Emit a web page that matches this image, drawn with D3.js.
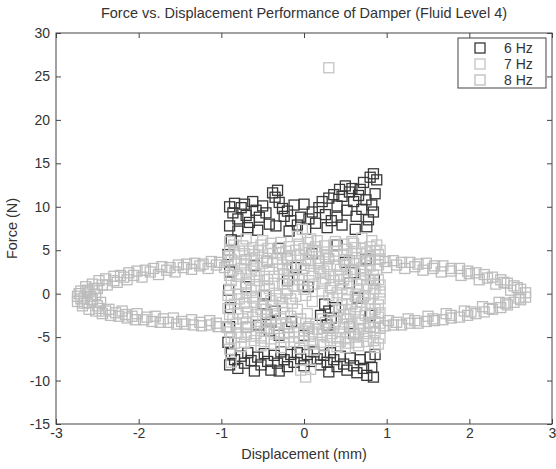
<!DOCTYPE html>
<html>
<head>
<meta charset="utf-8">
<script src="https://cdn.jsdelivr.net/npm/d3@7"></script>
<style>
  body { margin: 0; background: #fff; }
  text { font-family: "Liberation Sans", Arial, sans-serif; fill: #333; }
</style>
</head>
<body>
<svg></svg>
<script>
// axis ticks
const xTicks = [-3, -2, -1, 0, 1, 2, 3];
const yTicks = [-15, -10, -5, 0, 5, 10, 15, 20, 25, 30];
const seriesNames = ['6 Hz', '7 Hz', '8 Hz'];

// 6 Hz points [displacement, force]
const hz6 = [
  [-0.90,10.0],[-0.86,9.3],[-0.84,10.4],[-0.80,8.6],[-0.76,9.9],[-0.72,10.3],[-0.70,9.0],[-0.66,8.2],[-0.62,10.6],[-0.58,9.6],
  [-0.54,8.8],[-0.50,10.1],[-0.46,9.3],[-0.42,8.0],[-0.90,7.8],[-0.80,7.2],[-0.68,7.6],[-0.56,7.3],
  [-0.38,11.6],[-0.35,11.1],[-0.32,11.9],[-0.30,10.5],[-0.26,9.8],[-0.24,8.9],[-0.20,9.5],[-0.16,8.4],[-0.12,10.2],[-0.08,7.9],
  [-0.04,8.8],[0.00,10.3],[0.02,7.4],[0.06,8.6],[0.10,9.4],[-0.18,7.2],[-0.34,7.8],
  [0.14,8.1],[0.18,9.9],[0.22,10.6],[0.26,9.1],[0.30,11.0],[0.33,8.4],[0.36,11.4],[0.40,10.1],[0.43,12.0],[0.46,11.2],
  [0.50,12.4],[0.52,9.6],[0.55,11.7],[0.58,12.1],[0.60,10.6],[0.63,8.9],[0.66,11.3],[0.70,9.7],[0.72,12.8],[0.75,10.8],
  [0.78,8.5],[0.80,13.4],[0.84,13.8],[0.86,11.5],[0.88,13.1],[0.84,9.4],[0.28,7.6],[0.46,7.9],[0.62,7.4],[0.76,7.7],
  [0.40,8.8],[0.68,12.0],[0.82,10.2],
  [-0.90,-8.2],[-0.88,-6.9],[-0.84,-7.6],[-0.80,-8.6],[-0.76,-7.2],[-0.72,-8.0],[-0.68,-6.8],[-0.64,-7.7],[-0.60,-8.9],[-0.56,-7.3],
  [-0.52,-8.2],[-0.48,-6.9],[-0.44,-7.8],[-0.40,-8.8],[-0.36,-7.1],[-0.32,-8.0],[-0.28,-6.7],[-0.24,-7.6],[-0.20,-8.4],[-0.16,-7.0],
  [-0.12,-7.9],[-0.08,-6.8],[-0.04,-7.5],[0.00,-8.3],[0.04,-7.0],[0.08,-7.8],[0.12,-6.7],[0.16,-7.5],[0.20,-8.2],[0.24,-7.1],
  [0.28,-7.9],[0.32,-6.8],[0.36,-7.6],[0.40,-8.4],[0.44,-7.2],[0.48,-8.1],[0.52,-8.8],[0.56,-7.4],[0.60,-8.3],[0.64,-9.1],
  [0.68,-7.6],[0.72,-8.6],[0.76,-9.4],[0.80,-7.3],[0.82,-8.5],[0.84,-9.6],[0.86,-7.0],[-0.30,-8.9],[0.30,-9.0],
  [-0.92,4.5],[-0.90,2.5],[-0.91,0.4],[-0.89,-1.6],[-0.90,-3.8],[-0.92,-5.6],[-0.88,6.2],
  [-0.50,-1.2],[-0.45,-2.4],[-0.40,-3.3],[-0.42,-4.3],[-0.35,-2.0],[-0.55,-3.6],[-0.30,-4.8],[-0.48,-0.2],
  [0.25,-1.2],[0.30,-2.0],[0.33,-2.8],[0.28,-3.6],[0.38,-1.6],[0.20,-2.5],
  [0.55,1.2],[0.60,2.4],[0.50,3.6],[0.65,-0.5],[-0.20,1.5],[-0.10,3.0],[0.05,0.8],[0.10,4.6],[-0.30,5.2],[0.40,5.6],
  [-0.60,3.2],[-0.70,0.8],[0.80,-2.5],[0.85,1.6],[0.75,4.0],[-0.15,-3.2],[0.00,-4.8],[0.60,-4.6]
];

// 7 Hz points
const hz7 = [
  [-0.85,5.6],[-0.62,5.3],[-0.40,5.8],[-0.18,5.4],[0.05,5.9],[0.25,5.5],[0.48,5.7],[0.70,5.2],[0.88,5.6],
  [-0.92,4.3],[-0.72,4.6],[-0.50,4.2],[-0.28,4.7],[-0.05,4.4],[0.15,4.8],[0.36,4.3],[0.58,4.6],[0.80,4.4],
  [-0.84,3.4],[-0.60,3.1],[-0.38,3.6],[-0.15,3.2],[0.08,3.5],[0.28,3.1],[0.50,3.4],[0.70,3.0],[0.90,3.3],
  [-0.90,2.1],[-0.70,2.4],[-0.48,2.0],[-0.25,2.3],[-0.02,2.1],[0.20,2.4],[0.42,2.0],[0.62,2.3],[0.84,2.1],
  [-0.82,1.1],[-0.58,0.8],[-0.36,1.2],[-0.12,0.9],[0.12,1.1],[0.32,0.7],[0.54,1.2],[0.76,0.9],[0.92,1.0],
  [-0.92,-0.2],[-0.70,0.1],[-0.46,-0.3],[-0.22,0.0],[0.02,-0.2],[0.40,0.1],[0.62,-0.3],[0.84,0.0],
  [-0.84,-1.2],[-0.60,-1.0],[-0.38,-1.4],[-0.14,-1.1],[0.46,-1.3],[0.70,-1.0],[0.90,-1.3],
  [-0.90,-2.4],[-0.68,-2.1],[-0.46,-2.5],[-0.24,-2.2],[0.48,-2.4],[0.62,-2.1],[0.82,-2.3],
  [-0.82,-3.5],[-0.58,-3.2],[-0.34,-3.6],[-0.10,-3.3],[0.14,-3.5],[0.38,-3.2],[0.58,-3.6],[0.78,-3.3],[0.92,-3.4],
  [-0.90,-4.4],[-0.70,-4.7],[-0.48,-4.3],[-0.24,-4.6],[0.00,-4.3],[0.22,-4.7],[0.44,-4.4],[0.66,-4.6],[0.86,-4.5],
  [-0.84,-5.7],[-0.60,-5.4],[-0.36,-5.8],[-0.12,-5.5],[0.10,-5.8],[0.32,-5.4],[0.54,-5.7],[0.76,-5.5],[0.90,-5.8],
  [-0.78,4.9],[-0.55,5.0],[-0.33,4.0],[-0.10,5.0],[0.18,3.8],[0.40,4.9],[0.64,3.8],[0.86,4.9],
  [-0.76,2.9],[-0.54,1.5],[-0.30,2.8],[-0.06,1.6],[0.18,2.9],[0.36,1.5],[0.58,2.8],[0.80,1.6],
  [-0.78,-0.6],[-0.52,-1.8],[-0.30,-0.6],[-0.08,-1.8],[0.35,-0.6],[0.56,-1.8],[0.78,-0.6],
  [-0.74,-2.9],[-0.52,-3.9],[-0.28,-2.9],[-0.04,-2.9],[0.30,-4.0],[0.52,-2.9],[0.72,-4.0],
  [-0.76,-5.0],[-0.52,-5.1],[-0.30,-4.0],[-0.06,-5.0],[0.16,-4.1],[0.40,-5.1],[0.62,-5.0],[0.84,-3.9],
  [-0.90,5.1],[-0.66,4.9],[-0.44,5.2],[-0.22,4.9],[0.00,5.2],[0.10,5.0],[0.28,4.8],[0.52,5.1],[0.62,5.3],[0.76,4.8],[0.92,5.0],
  [-0.90,6.0],[-0.50,6.1],[-0.28,5.9],[0.16,6.1],[0.38,6.0],[0.58,6.0],[0.82,6.1],
  [-0.88,3.9],[-0.64,4.0],[-0.44,3.8],[-0.20,4.1],[0.02,3.9],[0.26,4.1],[0.48,3.9],[0.74,3.8],[0.92,4.0],
  [-0.86,2.7],[-0.64,2.6],[-0.42,2.8],[-0.20,2.7],[0.00,2.9],[0.24,2.6],[0.44,2.8],[0.68,2.6],[0.88,2.8],
  [-0.88,1.5],[-0.66,1.7],[-0.44,1.6],[-0.18,1.8],[0.06,1.5],[0.26,1.7],[0.48,1.6],[0.70,1.7],[0.90,1.6],
  [-0.90,0.5],[-0.64,0.4],[-0.42,0.6],[-0.20,0.4],[0.00,0.5],[0.22,0.3],[0.46,0.6],[0.66,0.4],[0.86,0.6],
  [-0.88,-0.7],[-0.62,-0.5],[-0.40,-0.8],[-0.16,-0.6],[0.52,-0.7],[0.72,-0.4],[0.92,-0.6],
  [-0.92,-1.7],[-0.70,-1.5],[-0.46,-1.8],[-0.26,-1.5],[0.42,-1.9],[0.64,-1.5],[0.86,-1.8],
  [-0.86,-2.9],[-0.62,-2.7],[-0.40,-3.0],[-0.16,-2.6],[0.40,-2.7],[0.66,-3.0],[0.90,-2.7],
  [-0.92,-3.9],[-0.68,-3.8],[-0.42,-4.0],[-0.18,-3.9],[0.06,-3.8],[0.24,-4.0],[0.48,-3.9],[0.66,-4.1],[0.92,-4.0],
  [-0.88,-5.1],[-0.64,-4.9],[-0.40,-5.2],[-0.18,-5.0],[0.06,-4.9],[0.28,-5.0],[0.50,-5.2],[0.72,-4.9],[0.92,-5.1],
  [-0.76,-6.1],[-0.52,-6.0],[-0.28,-6.2],[0.24,-6.0],[0.40,-6.1],[0.66,-6.0],[0.86,-6.2],
  [-0.74,5.5],[-0.52,5.6],[-0.30,5.3],[-0.06,5.7],[0.14,5.4],[0.36,5.6],[0.60,5.8],[0.80,5.4],
  [-0.84,4.7],[-0.60,4.5],[-0.38,4.6],[-0.16,4.4],[0.06,4.7],[0.26,4.5],[0.48,4.4],[0.70,4.6],[0.90,4.5],
  [-0.72,3.3],[-0.50,3.5],[-0.26,3.3],[-0.04,3.3],[0.18,3.4],[0.40,3.3],[0.60,3.5],[0.80,3.2],
  [-0.80,2.0],[-0.58,2.2],[-0.36,2.0],[-0.12,2.2],[0.10,2.0],[0.32,2.2],[0.52,2.0],[0.74,2.2],
  [-0.70,1.1],[-0.48,0.9],[-0.26,1.1],[-0.02,1.0],[0.22,1.2],[0.44,1.0],[0.64,1.1],[0.84,1.2],
  [-0.80,-0.1],[-0.58,-0.3],[-0.34,-0.2],[-0.10,-0.3],[0.30,-0.2],[0.52,0.0],[0.74,-0.2],[0.92,0.2],
  [-0.72,-1.1],[-0.50,-1.3],[-0.26,-1.0],[0.58,-1.2],[0.80,-1.1],
  [-0.80,-2.2],[-0.58,-2.4],[-0.36,-2.3],[0.56,-2.3],[0.74,-2.5],[0.92,-2.2],
  [-0.70,-3.4],[-0.46,-3.3],[-0.22,-3.5],[0.02,-3.4],[0.26,-3.3],[0.48,-3.5],[0.68,-3.4],[0.86,-3.2],
  [-0.80,-4.5],[-0.58,-4.6],[-0.36,-4.4],[-0.12,-4.5],[0.10,-4.4],[0.34,-4.6],[0.56,-4.4],[0.76,-4.6],
  [-0.72,-5.6],[-0.48,-5.5],[-0.24,-5.6],[0.00,-5.4],[0.20,-5.6],[0.44,-5.5],[0.64,-5.6],[0.84,-5.4],
  [0.10,-0.9],[0.22,-2.9],[0.04,-2.3],
  [-0.08,6.6],[-0.02,7.4],[0.08,6.3],[-0.70,6.3],[0.70,6.4],
  [-0.90,-6.4],[-0.05,-6.3],[0.02,-9.6],[-0.04,-8.8],[0.08,-8.7],[0.12,-6.5],[0.50,-6.2],[-0.88,-7.9],
  [0.30,26.0]
];

// 8 Hz points
const hz8 = [
  [-2.74,-0.3],[-2.70,0.3],[-2.64,0.8],[-2.56,1.1],[-2.48,1.5],[-2.40,1.7],[-2.30,2.0],[-2.22,2.1],[-2.12,2.4],[-2.02,2.6],
  [-1.92,2.7],[-1.82,2.9],[-1.72,3.1],[-1.62,3.0],[-1.52,3.3],[-1.42,3.4],[-1.32,3.5],[-1.22,3.4],[-1.12,3.7],[-1.02,3.6],
  [-0.92,3.8],[-0.70,3.9],[-0.45,3.7],[-0.20,4.0],[0.05,3.8],[0.30,4.0],[0.55,3.8],[0.80,3.9],[0.98,3.7],[1.08,3.8],
  [1.18,3.6],[1.28,3.6],[1.38,3.4],[1.48,3.5],[1.58,3.2],[1.68,3.2],[1.78,2.9],[1.88,2.9],[1.98,2.6],[2.08,2.4],
  [2.18,2.2],[2.28,1.9],[2.38,1.6],[2.46,1.2],[2.54,0.9],[2.62,0.5],[2.68,0.1],
  [-2.60,0.2],[-2.50,0.6],[-2.38,1.0],[-2.26,1.3],[-2.14,1.6],[-1.96,1.9],[-1.76,2.2],[-1.56,2.5],[-1.36,2.8],[-1.16,2.9],
  [-0.96,3.0],[1.00,3.0],[1.22,2.9],[1.44,2.7],[1.66,2.5],[1.90,2.1],[2.12,1.6],[2.32,1.1],[2.50,0.4],
  [-2.74,-0.9],[-2.68,-1.4],[-2.60,-1.8],[-2.52,-2.0],[-2.44,-2.3],[-2.34,-2.5],[-2.24,-2.6],[-2.14,-2.8],[-2.04,-3.0],[-1.94,-3.0],
  [-1.84,-3.2],[-1.74,-3.3],[-1.64,-3.3],[-1.54,-3.5],[-1.44,-3.5],[-1.34,-3.6],[-1.24,-3.7],[-1.14,-3.6],[-1.04,-3.8],[-0.94,-3.8],
  [-0.70,-3.9],[-0.45,-4.0],[-0.20,-3.9],[0.05,-4.0],[0.30,-3.9],[0.55,-3.8],[0.80,-3.8],[0.98,-3.7],[1.08,-3.6],[1.18,-3.6],
  [1.28,-3.4],[1.38,-3.4],[1.48,-3.2],[1.58,-3.1],[1.68,-3.0],[1.78,-2.8],[1.88,-2.7],[1.98,-2.5],[2.08,-2.3],[2.18,-2.1],
  [2.28,-1.8],[2.38,-1.6],[2.46,-1.3],[2.54,-1.0],[2.62,-0.7],[2.68,-0.4],
  [-2.62,-1.0],[-2.50,-1.4],[-2.36,-1.8],[-2.20,-2.0],[-2.02,-2.3],[-1.80,-2.6],[-1.58,-2.8],[-1.36,-3.0],[-1.14,-3.1],
  [1.02,-3.1],[1.26,-2.9],[1.50,-2.6],[1.72,-2.3],[1.94,-2.0],[2.16,-1.5],[2.36,-1.0],
  [-2.66,-0.5],[-2.58,-0.3],[-2.62,0.4],
  [-2.70,-0.6],[-2.72,0.0],[-2.66,-1.1],[-2.56,-0.7],[-2.52,-0.1],[-2.54,0.6],[-2.46,-1.0],[-2.44,1.0],
  [-2.48,-1.7],[-2.40,-2.0],[-2.30,1.5],[-2.28,-2.2],[-2.18,1.9],[-2.16,-2.4],[-2.06,2.1],[-2.08,-2.6],
  [-1.86,2.5],[-1.66,2.7],[-1.46,3.0],[-1.26,3.2],[-1.06,3.3],
  [-1.90,-2.7],[-1.70,-2.9],[-1.48,-3.2],[-1.26,-3.3],[-1.06,-3.4],
  [1.12,3.3],[1.34,3.1],[1.56,2.9],[1.78,2.6],[2.00,2.3],[2.22,1.8],[2.42,1.3],[2.58,0.7],
  [1.12,-3.3],[1.34,-3.1],[1.56,-2.9],[1.78,-2.5],[2.02,-2.1],[2.24,-1.7],[2.44,-1.1],[2.60,-0.5]
];

const seriesData = [hz6, hz7, hz8];
const seriesColors = ['#383838', '#c4c4c4', '#bcbcbc'];

const width = 556, height = 469;
const plotLeft = 56, plotRight = 552, plotTop = 33, plotBottom = 424;
const box = 10;

const svg = d3.select('svg')
  .attr('width', width)
  .attr('height', height);

const scaleX = d3.scaleLinear().domain([-3, 3]).range([plotLeft, plotRight]);
const scaleY = d3.scaleLinear().domain([-15, 30]).range([plotBottom, plotTop]);

// points, drawn in series order
seriesData.forEach((pts, i) => {
  svg.append('g')
    .attr('class', 'series')
    .selectAll('rect')
    .data(pts)
    .enter()
    .append('rect')
    .attr('x', d => scaleX(d[0]) - box / 2)
    .attr('y', d => scaleY(d[1]) - box / 2)
    .attr('width', box)
    .attr('height', box)
    .attr('fill', 'none')
    .attr('stroke', seriesColors[i])
    .attr('stroke-width', 1.3);
});

// frame
svg.append('rect')
  .attr('x', plotLeft)
  .attr('y', plotTop)
  .attr('width', plotRight - plotLeft)
  .attr('height', plotBottom - plotTop)
  .attr('fill', 'none')
  .attr('stroke', '#444')
  .attr('stroke-width', 1);

// axes, ticks point inward
const styleAxis = g => {
  g.select('.domain').remove();
  g.selectAll('line').attr('stroke', '#444');
  g.selectAll('text').attr('font-size', 14).attr('fill', '#333')
    .attr('font-family', '"Liberation Sans", Arial, sans-serif');
};

svg.append('g')
  .attr('transform', `translate(0, ${plotBottom})`)
  .call(d3.axisBottom(scaleX).tickValues(xTicks).tickFormat(d => String(d))
    .tickSizeInner(-5).tickSizeOuter(0).tickPadding(4))
  .call(styleAxis);

svg.append('g')
  .attr('transform', `translate(0, ${plotTop})`)
  .call(d3.axisTop(scaleX).tickValues(xTicks).tickSizeInner(-5).tickSizeOuter(0).tickFormat(''))
  .call(styleAxis);

svg.append('g')
  .attr('transform', `translate(${plotLeft}, 0)`)
  .call(d3.axisLeft(scaleY).tickValues(yTicks).tickFormat(d => String(d))
    .tickSizeInner(-5).tickSizeOuter(0).tickPadding(6))
  .call(styleAxis);

svg.append('g')
  .attr('transform', `translate(${plotRight}, 0)`)
  .call(d3.axisRight(scaleY).tickValues(yTicks).tickSizeInner(-5).tickSizeOuter(0).tickFormat(''))
  .call(styleAxis);

// title and axis labels
svg.append('text')
  .attr('x', (plotLeft + plotRight) / 2)
  .attr('y', 18)
  .attr('text-anchor', 'middle')
  .attr('font-size', 14.5)
  .text('Force vs. Displacement Performance of Damper (Fluid Level 4)');

svg.append('text')
  .attr('x', (plotLeft + plotRight) / 2)
  .attr('y', 459)
  .attr('text-anchor', 'middle')
  .attr('font-size', 14.5)
  .text('Displacement (mm)');

svg.append('text')
  .attr('transform', `translate(17, ${(plotTop + plotBottom) / 2}) rotate(-90)`)
  .attr('text-anchor', 'middle')
  .attr('font-size', 14.5)
  .text('Force (N)');

// legend
const legend = svg.append('g').attr('class', 'legend');
legend.append('rect')
  .attr('x', 458)
  .attr('y', 38)
  .attr('width', 88)
  .attr('height', 50)
  .attr('fill', '#fff')
  .attr('stroke', '#444');

seriesNames.forEach((name, i) => {
  const cy = 48 + i * 16;
  legend.append('rect')
    .attr('x', 480 - box / 2)
    .attr('y', cy - box / 2)
    .attr('width', box)
    .attr('height', box)
    .attr('fill', 'none')
    .attr('stroke', seriesColors[i])
    .attr('stroke-width', 1.3);
  legend.append('text')
    .attr('x', 504)
    .attr('y', cy + 5)
    .attr('font-size', 14)
    .text(name);
});
</script>
</body>
</html>
